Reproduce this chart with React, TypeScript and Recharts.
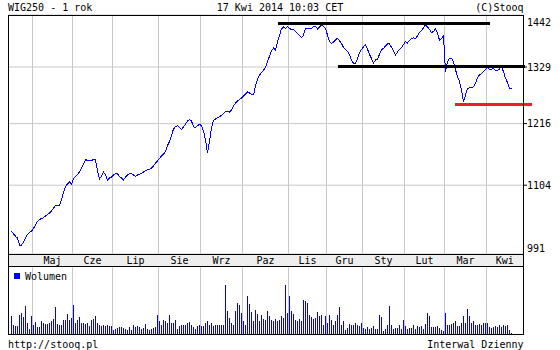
import React from 'react';
import { ComposedChart, Line, Bar, XAxis, YAxis, CartesianGrid, ReferenceLine } from 'recharts';

const FONT = '"DejaVu Sans Mono", monospace';

// months shown on the axis (first one is the partial April 2013, unlabeled)
const monthNames = ['Kwi', 'Maj', 'Cze', 'Lip', 'Sie', 'Wrz', 'Paz', 'Lis', 'Gru', 'Sty', 'Lut', 'Mar', 'Kwi'];
// trading sessions per month, 16 Apr 2013 .. 17 Apr 2014
const monthDays = [11, 20, 20, 23, 21, 21, 23, 19, 18, 21, 20, 21, 13];

const priceTicks = [991, 1104, 1216, 1329, 1442];

// WIG250 daily close
const closes = [
  1027, 1023, 1019, 1016, 1005, 1005, 1010, 1016, 1022, 1025,
  1027, 1032, 1037, 1043, 1046, 1048, 1049, 1052, 1054, 1057,
  1060, 1065, 1069, 1069, 1069, 1079, 1091, 1102, 1106, 1110,
  1106, 1115, 1119, 1123, 1127, 1134, 1141, 1149, 1148, 1148,
  1148, 1149, 1149, 1129, 1115, 1120, 1127, 1122, 1112, 1117,
  1118, 1122, 1124, 1124, 1119, 1117, 1113, 1118, 1122, 1124,
  1124, 1122, 1119, 1122, 1123, 1125, 1127, 1129, 1131, 1132,
  1134, 1138, 1143, 1147, 1151, 1156, 1159, 1164, 1175, 1182,
  1193, 1206, 1210, 1212, 1209, 1205, 1210, 1215, 1221, 1224,
  1221, 1210, 1208, 1212, 1215, 1212, 1202, 1185, 1161, 1182,
  1208, 1222, 1225, 1227, 1229, 1232, 1236, 1239, 1239, 1238,
  1242, 1250, 1256, 1260, 1263, 1266, 1270, 1274, 1278, 1276,
  1273, 1272, 1290, 1304, 1312, 1318, 1322, 1328, 1340, 1352,
  1363, 1369, 1365, 1382, 1397, 1411, 1415, 1412, 1416, 1412,
  1409, 1409, 1405, 1401, 1396, 1392, 1397, 1412, 1411, 1411,
  1411, 1416, 1417, 1411, 1415, 1420, 1417, 1412, 1397, 1384,
  1379, 1382, 1387, 1390, 1385, 1379, 1370, 1366, 1362, 1354,
  1344, 1337, 1337, 1346, 1359, 1366, 1372, 1376, 1367, 1355,
  1347, 1337, 1344, 1345, 1356, 1366, 1368, 1374, 1378, 1378,
  1371, 1363, 1354, 1361, 1366, 1370, 1377, 1383, 1380, 1386,
  1390, 1391, 1389, 1396, 1403, 1407, 1413, 1420, 1415, 1410,
  1403, 1405, 1411, 1402, 1386, 1389, 1396, 1319, 1340, 1347,
  1347, 1340, 1323, 1310, 1299, 1282, 1258, 1272, 1285, 1286,
  1287, 1288, 1295, 1307, 1313, 1315, 1319, 1324, 1328, 1324,
  1324, 1326, 1321, 1322, 1325, 1330, 1319, 1306, 1297, 1285,
  1284,
];

// daily volume (relative units)
const volumes = [
  17.7, 8.7, 8.3, 7.7, 19.3, 21, 16.7, 27.7, 11, 5.3,
  17.7, 9.3, 12, 6.7, 6.7, 13.3, 11, 10, 10, 11,
  13.3, 15, 26.7, 10, 8.7, 9.3, 14.3, 14.3, 20, 14.3,
  16, 29.3, 11, 14.3, 16.7, 11, 11, 10, 11, 7.7,
  14.3, 15.3, 18.3, 11, 8.7, 7.7, 8.7, 7.7, 8.7, 7.7,
  7.7, 4.3, 5.3, 6, 6.7, 6.7, 6, 5.3, 4.3, 6.7,
  4.3, 8.7, 6.7, 7.7, 6.7, 5.3, 6, 10, 5.3, 4.3,
  5.3, 6, 6.7, 19.3, 12.7, 9.3, 14.3, 13.3, 11, 19.3,
  11, 11, 14.3, 5.3, 7.7, 8.7, 8.7, 9.3, 11, 12,
  8.7, 6.7, 5.3, 7.7, 8.7, 7.7, 7.7, 11, 12.7, 8.7,
  11, 7.7, 9.3, 8.7, 8.7, 8.7, 8.7, 49.3, 23.3, 16,
  11, 9.3, 22.7, 31, 29.3, 21, 12.7, 9.3, 37.7, 30,
  22, 12.7, 24.3, 20, 13.3, 19.3, 15.3, 14.3, 22.7, 17.7,
  14.3, 12.7, 15.3, 12.7, 14.3, 17.7, 16, 48.7, 21, 37.7,
  22.7, 20, 14.3, 12.7, 15.3, 12.7, 34.3, 33.3, 31, 19.3,
  16.7, 15.3, 16, 22, 17.7, 18.7, 9.3, 17.7, 11, 18.7,
  14.3, 9.3, 12.7, 19.3, 26.7, 8.7, 12.7, 4.3, 6, 10,
  8.7, 9.3, 11, 8.7, 7.7, 11, 6, 5.3, 6.7, 5.3,
  6, 7.7, 5.3, 5.3, 19.3, 16.7, 3.3, 5.3, 9.3, 27.7,
  9.3, 5.3, 6, 6, 9.3, 5.3, 14.3, 7.7, 5.3, 6,
  6, 9.3, 5.3, 7.7, 6.7, 7.7, 5.3, 10, 21, 17.7,
  6.7, 6.7, 6.7, 7.7, 6, 4.3, 3.3, 21, 9.3, 8.7,
  10, 11, 12.7, 7.7, 7.7, 11, 17.7, 11, 25.3, 17.7,
  11, 12.7, 9.3, 8.7, 10, 8.7, 11, 11, 11, 6.7,
  6, 6.7, 7.7, 6.7, 8.7, 6.7, 8.7, 7.7, 8.7, 4.3,
  1,
];

// hand-drawn support / resistance lines: session index range and level
const drawnLines = [
  { from: 133.25, to: 239.25, level: 1423, color: '#000000' },
  { from: 163.4, to: 256.75, level: 1330, color: '#000000' },
  { from: 221.75, to: 260.1, level: 1253, color: '#e8202a' },
];

const X_MIN = -1.75;
const X_MAX = 255.75;
const GRID = '#c8c8c8';

const rows = closes.map((c, i) => ({ i, close: c, vol: volumes[i] }));

const monthStarts = monthDays.map((_, k) => monthDays.slice(0, k).reduce((a, b) => a + b, 0));
const gridIdx = monthStarts.slice(1).map((s) => s - 0.5);
const labelIdx = gridIdx.map((g, k) => (g + (k < gridIdx.length - 1 ? gridIdx[k + 1] : X_MAX)) / 2);

const MonthTick = (props: any) => {
  const k = labelIdx.indexOf(props.payload.value);
  return (
    <text x={props.x} y={263.5} textAnchor="middle" fontFamily={FONT} fontSize={10} fill="#000">
      {monthNames[k + 1]}
    </text>
  );
};

const PriceTick = (props: any) => {
  const { y, payload } = props;
  const v = payload.value;
  const ty = Math.min(248.3, Math.max(22.5, y));
  const edge = v === priceTicks[0] || v === priceTicks[priceTicks.length - 1];
  return (
    <g>
      {!edge && <line x1={523} x2={527} y1={y} y2={y} stroke="#000" />}
      <text x={527} y={ty + 3.6} fontFamily={FONT} fontSize={10} fill="#000">
        {v}
      </text>
    </g>
  );
};

// 1px volume bar snapped to the pixel grid
const VolBar = (props: any) => {
  const { x, y, height } = props;
  if (!height) return null;
  const top = Math.round(y);
  const bottom = Math.round(y + height);
  return <rect x={Math.round(x)} y={top} width={1} height={bottom - top} fill="#0000ff" />;
};

export default function App() {
  return (
    <div style={{ position: 'absolute', left: 0, top: 0, width: 560, height: 350, background: '#fff', overflow: 'hidden' }}>
      <style>{'.recharts-line-curve, .recharts-reference-line-line { shape-rendering: crispEdges; }'}</style>
      {/* month band background */}
      <div style={{ position: 'absolute', left: 8, top: 254, width: 515, height: 12, background: '#eeeeee' }} />

      <div style={{ position: 'absolute', left: 0, top: 0 }}>
        <ComposedChart width={560} height={266} data={rows} margin={{ top: 15, right: 0, bottom: 0, left: 8 }}>
          <CartesianGrid vertical={false} stroke={GRID} />
          {gridIdx.map((g) => (
            <ReferenceLine key={g} x={g} stroke={GRID} />
          ))}
          <XAxis
            type="number"
            dataKey="i"
            domain={[X_MIN, X_MAX]}
            allowDataOverflow
            ticks={labelIdx}
            interval={0}
            height={12}
            axisLine={false}
            tickLine={false}
            tick={<MonthTick />}
          />
          <XAxis
            xAxisId="top"
            type="number"
            dataKey="i"
            orientation="top"
            mirror
            domain={[X_MIN, X_MAX]}
            allowDataOverflow
            ticks={gridIdx}
            interval={0}
            tickSize={4}
            axisLine={false}
            tickLine={{ stroke: '#000' }}
            tick={false}
          />
          <YAxis
            orientation="right"
            type="number"
            scale="log"
            domain={[991, 1442]}
            allowDataOverflow
            ticks={priceTicks}
            interval={0}
            width={37}
            axisLine={false}
            tickLine={false}
            tick={<PriceTick />}
          />
          <Line
            dataKey="close"
            type="linear"
            stroke="#0000ff"
            strokeWidth={1}
            dot={false}
            isAnimationActive={false}
          />
          {drawnLines.map((l) => (
            <ReferenceLine
              key={l.level}
              segment={[{ x: l.from, y: l.level }, { x: l.to, y: l.level }]}
              stroke={l.color}
              strokeWidth={3}
              ifOverflow="visible"
            />
          ))}
        </ComposedChart>
      </div>

      <div style={{ position: 'absolute', left: 0, top: 266 }}>
        <ComposedChart width={560} height={70} data={rows} margin={{ top: 1, right: 37, bottom: 2, left: 8 }}>
          {gridIdx.map((g) => (
            <ReferenceLine key={g} x={g} stroke={GRID} />
          ))}
          <XAxis type="number" dataKey="i" domain={[X_MIN, X_MAX]} allowDataOverflow hide />
          <XAxis
            xAxisId="top"
            type="number"
            dataKey="i"
            orientation="top"
            mirror
            domain={[X_MIN, X_MAX]}
            allowDataOverflow
            ticks={gridIdx}
            interval={0}
            tickSize={4}
            axisLine={false}
            tickLine={{ stroke: '#000' }}
            tick={false}
          />
          <YAxis domain={[0, 67]} allowDataOverflow hide />
          <Bar dataKey="vol" fill="#0000ff" barSize={1} shape={<VolBar />} isAnimationActive={false} />
        </ComposedChart>
      </div>

      <svg
        width={560}
        height={350}
        style={{ position: 'absolute', left: 0, top: 0, pointerEvents: 'none' }}
        fontFamily={FONT}
        fontSize={10}
      >
        <text x={8} y={10.5}>WIG250 - 1 rok</text>
        <text x={280} y={10.5} textAnchor="middle">17 Kwi 2014 10:03 CET</text>
        <text x={523.5} y={10.5} textAnchor="end">(C)Stooq</text>
        <g stroke="#000" strokeWidth={1}>
          <line x1={8} x2={524} y1={15.5} y2={15.5} />
          <line x1={8.5} x2={8.5} y1={15} y2={335} />
          <line x1={523.5} x2={523.5} y1={15} y2={335} />
          <line x1={8} x2={524} y1={254.5} y2={254.5} />
          <line x1={8} x2={524} y1={266.5} y2={266.5} />
          <line x1={8} x2={524} y1={334.5} y2={334.5} />
        </g>
        <rect x={14} y={273} width={6} height={6} fill="#0000ff" />
        <text x={25} y={279.5}>Wolumen</text>
        <text x={8} y={347.5}>http://stooq.pl</text>
        <text x={523.5} y={347.5} textAnchor="end">Interwal Dzienny</text>
      </svg>
    </div>
  );
}
